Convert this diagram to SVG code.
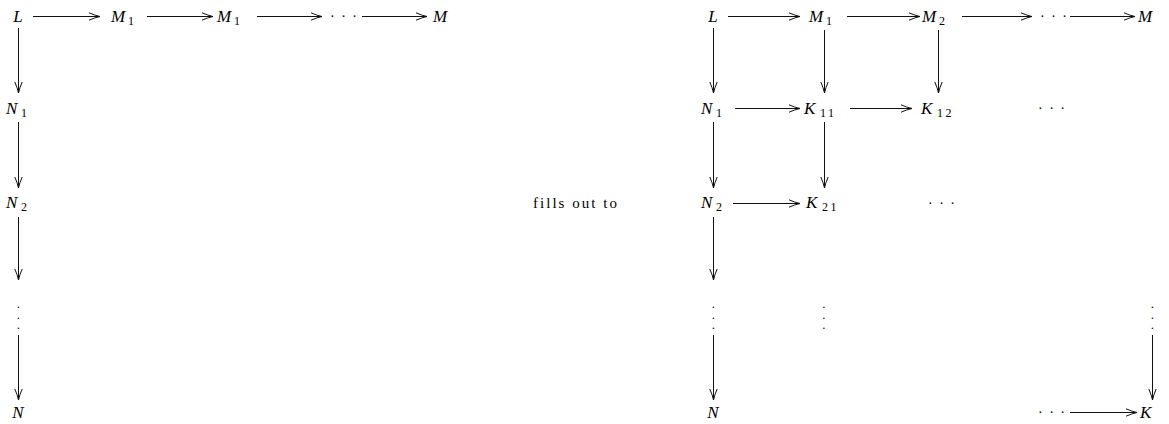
<svg xmlns="http://www.w3.org/2000/svg" width="1169" height="424" viewBox="0 0 1169 424">
  <style>
    .m { font-family: "Liberation Serif", "Times New Roman", serif; font-style: italic; font-size: 17px; fill: #000; }
    .s { font-family: "Liberation Serif", "Times New Roman", serif; font-size: 12px; fill: #000; }
    .d { font-family: "Liberation Serif", "Times New Roman", serif; font-size: 14px; fill: #000; }
    .v { font-family: "Liberation Serif", "Times New Roman", serif; font-size: 9px; font-weight: bold; fill: #000; }
    .r { font-family: "Liberation Serif", "Times New Roman", serif; font-size: 15px; fill: #000; }
    .a { stroke: #111; stroke-width: 1; fill: none; marker-end: url(#head); }
  </style>
  <defs>
    <marker id="head" markerUnits="userSpaceOnUse" markerWidth="14" markerHeight="10" refX="12" refY="5" orient="auto">
      <path d="M1,1.3 Q7,4 12,5 Q7,6 1,8.7" fill="none" stroke="#111" stroke-width="1"/>
    </marker>
  </defs>

  <!-- connectors: chain on the left -->
  <g id="connectors">
    <line class="a" x1="33" y1="16.5" x2="100" y2="16.5"/>
    <line class="a" x1="147" y1="16.5" x2="213" y2="16.5"/>
    <line class="a" x1="257" y1="16.5" x2="322" y2="16.5"/>
    <line class="a" x1="362" y1="16.5" x2="427" y2="16.5"/>
    <line class="a" x1="18.5" y1="28" x2="18.5" y2="93"/>
    <line class="a" x1="18.5" y1="122" x2="18.5" y2="188"/>
    <line class="a" x1="18.5" y1="217" x2="18.5" y2="280"/>
    <line class="a" x1="18.5" y1="335" x2="18.5" y2="400"/>

    <!-- grid on the right -->
    <line class="a" x1="728" y1="16.5" x2="800" y2="16.5"/>
    <line class="a" x1="847" y1="16.5" x2="920" y2="16.5"/>
    <line class="a" x1="962" y1="16.5" x2="1032" y2="16.5"/>
    <line class="a" x1="1070" y1="16.5" x2="1135" y2="16.5"/>
    <line class="a" x1="713.5" y1="28" x2="713.5" y2="93"/>
    <line class="a" x1="824.5" y1="30" x2="824.5" y2="93"/>
    <line class="a" x1="938.5" y1="30" x2="938.5" y2="93"/>
    <line class="a" x1="735" y1="108.5" x2="800" y2="108.5"/>
    <line class="a" x1="850" y1="108.5" x2="912" y2="108.5"/>
    <line class="a" x1="713.5" y1="122" x2="713.5" y2="188"/>
    <line class="a" x1="824.5" y1="122" x2="824.5" y2="188"/>
    <line class="a" x1="733" y1="203.5" x2="800" y2="203.5"/>
    <line class="a" x1="713.5" y1="217" x2="713.5" y2="280"/>
    <line class="a" x1="713.5" y1="335" x2="713.5" y2="400"/>
    <line class="a" x1="1152.5" y1="335" x2="1152.5" y2="400"/>
    <line class="a" x1="1070" y1="412.5" x2="1137" y2="412.5"/>
  </g>

  <!-- left diagram nodes -->
  <g id="l-L"><text class="m" x="18" y="22" text-anchor="middle">L</text></g>
  <g id="l-M1a"><text class="m" x="111" y="22">M</text><text class="s" x="128" y="24.5">1</text></g>
  <g id="l-M1b"><text class="m" x="217" y="22">M</text><text class="s" x="234" y="24.5">1</text></g>
  <g id="l-dots"><text class="d" x="330" y="21" letter-spacing="6.5">···</text></g>
  <g id="l-M"><text class="m" x="433" y="22">M</text></g>
  <g id="l-N1"><text class="m" x="6" y="114">N</text><text class="s" x="21" y="116.5">1</text></g>
  <g id="l-N2"><text class="m" x="6" y="208">N</text><text class="s" x="21" y="210.5">2</text></g>
  <g id="l-vdots">
    <text class="v" x="17.2" y="308">.</text>
    <text class="v" x="17.2" y="318.5">.</text>
    <text class="v" x="17.2" y="329">.</text>
  </g>
  <g id="l-N"><text class="m" x="18" y="418" text-anchor="middle">N</text></g>

  <g id="caption"><text class="r" x="533" y="208" textLength="84" lengthAdjust="spacing">fills out to</text></g>

  <!-- right diagram nodes -->
  <g id="r-L"><text class="m" x="713" y="22" text-anchor="middle">L</text></g>
  <g id="r-M1"><text class="m" x="809" y="22">M</text><text class="s" x="826" y="24.5">1</text></g>
  <g id="r-M2"><text class="m" x="922" y="22">M</text><text class="s" x="939" y="24.5">2</text></g>
  <g id="r-dots1"><text class="d" x="1040" y="21" letter-spacing="6.5">···</text></g>
  <g id="r-M"><text class="m" x="1138" y="22">M</text></g>
  <g id="r-N1"><text class="m" x="701" y="114">N</text><text class="s" x="716" y="116.5">1</text></g>
  <g id="r-K11"><text class="m" x="804" y="114">K</text><text class="s" x="820" y="116.5" letter-spacing="2.5">11</text></g>
  <g id="r-K12"><text class="m" x="921" y="114">K</text><text class="s" x="937" y="116.5" letter-spacing="2.5">12</text></g>
  <g id="r-dots2"><text class="d" x="1038" y="113" letter-spacing="6.5">···</text></g>
  <g id="r-N2"><text class="m" x="701" y="208">N</text><text class="s" x="716" y="210.5">2</text></g>
  <g id="r-K21"><text class="m" x="806" y="208">K</text><text class="s" x="822" y="210.5" letter-spacing="2.5">21</text></g>
  <g id="r-dots3"><text class="d" x="928" y="208" letter-spacing="6.5">···</text></g>
  <g id="r-vdots1">
    <text class="v" x="712.2" y="308">.</text>
    <text class="v" x="712.2" y="318.5">.</text>
    <text class="v" x="712.2" y="329">.</text>
  </g>
  <g id="r-vdots2">
    <text class="v" x="822.7" y="308">.</text>
    <text class="v" x="822.7" y="318.5">.</text>
    <text class="v" x="822.7" y="329">.</text>
  </g>
  <g id="r-vdots3">
    <text class="v" x="1151.2" y="308">.</text>
    <text class="v" x="1151.2" y="318.5">.</text>
    <text class="v" x="1151.2" y="329">.</text>
  </g>
  <g id="r-N"><text class="m" x="713" y="418" text-anchor="middle">N</text></g>
  <g id="r-dots4"><text class="d" x="1038" y="417" letter-spacing="6.5">···</text></g>
  <g id="r-K"><text class="m" x="1140" y="418">K</text></g>
</svg>
